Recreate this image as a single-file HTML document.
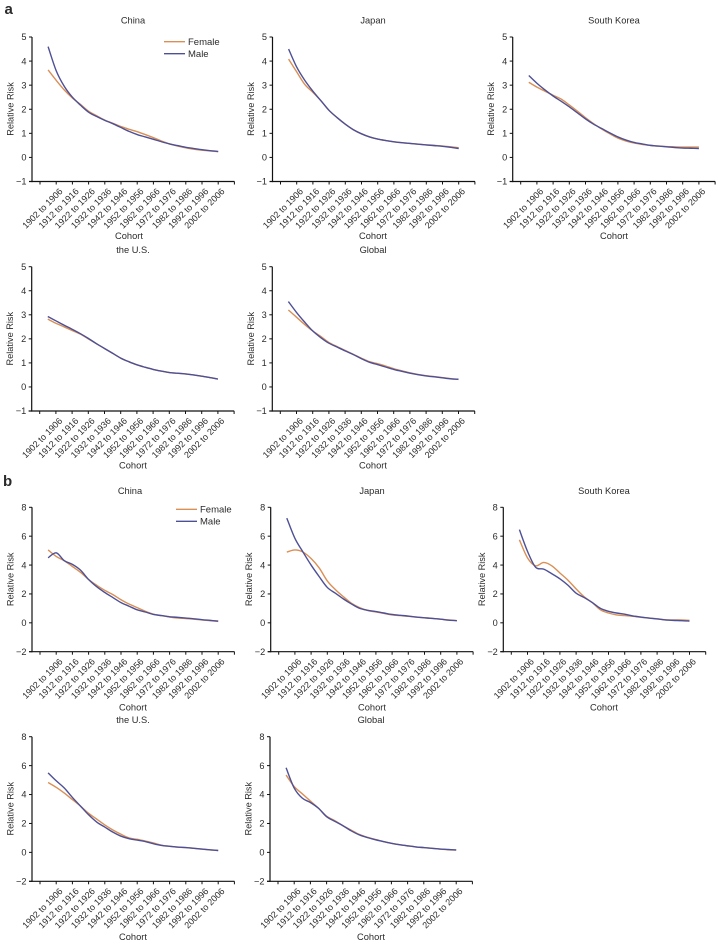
<!DOCTYPE html>
<html>
<head>
<meta charset="utf-8">
<style>
html,body{margin:0;padding:0;background:#fff;}
#chart{display:block;position:absolute;left:0;top:0;}
text{font-family:"Liberation Sans",Arial,sans-serif;fill:#2b2b2b;}
</style>
</head>
<body>
<svg id="chart" width="718" height="945" viewBox="0 0 718 945" xmlns="http://www.w3.org/2000/svg">
<text x="4.5" y="14" font-size="15" font-weight="bold">a</text>
<text x="3" y="486" font-size="15" font-weight="bold">b</text>
</svg>
<script>
const cohorts = ['1897 to 1901','1902 to 1906','1907 to 1911','1912 to 1916','1917 to 1921','1922 to 1926','1927 to 1931','1932 to 1936','1937 to 1941','1942 to 1946','1947 to 1951','1952 to 1956','1957 to 1961','1962 to 1966','1967 to 1971','1972 to 1976','1977 to 1981','1982 to 1986','1987 to 1991','1992 to 1996','1997 to 2001','2002 to 2006'];
const ticksA = [-1,0,1,2,3,4,5];
const ticksB = [-2,0,2,4,6,8];

const aChinaFemale = [3.63,3.2,2.8,2.47,2.2,1.92,1.73,1.55,1.42,1.28,1.17,1.07,.95,.82,.68,.56,.47,.40,.34,.30,.27,.24];
const aChinaMale = [4.6,3.6,2.95,2.5,2.17,1.88,1.7,1.54,1.4,1.24,1.08,.95,.85,.75,.65,.56,.49,.42,.37,.32,.28,.25];
const aJapanFemale = [4.08,3.55,3.03,2.7,2.35,1.95,1.65,1.38,1.15,.98,.85,.76,.70,.65,.61,.58,.55,.52,.50,.47,.44,.40];
const aJapanMale = [4.5,3.75,3.2,2.75,2.35,1.95,1.65,1.38,1.15,.98,.85,.76,.70,.65,.61,.58,.55,.52,.49,.46,.42,.37];
const aKoreaFemale = [3.12,2.92,2.75,2.58,2.42,2.18,1.92,1.65,1.40,1.18,.98,.80,.68,.60,.54,.50,.47,.45,.44,.43,.43,.43];
const aKoreaMale = [3.4,3.08,2.8,2.55,2.33,2.1,1.85,1.6,1.38,1.2,1.02,.85,.72,.62,.56,.5,.47,.44,.41,.39,.38,.37];
const aUsFemale = [2.82,2.65,2.5,2.35,2.2,2.0,1.8,1.6,1.4,1.2,1.05,.92,.82,.73,.66,.6,.57,.54,.5,.45,.39,.33];
const aUsMale = [2.93,2.75,2.57,2.4,2.22,2.02,1.8,1.6,1.4,1.2,1.05,.92,.82,.73,.66,.6,.57,.54,.5,.45,.39,.33];
const aGlobalFemale = [3.2,2.9,2.6,2.33,2.1,1.85,1.68,1.52,1.36,1.2,1.05,.97,.87,.76,.67,.59,.52,.47,.43,.39,.35,.31];
const aGlobalMale = [3.55,3.1,2.7,2.33,2.05,1.82,1.66,1.5,1.35,1.18,1.03,.93,.83,.73,.65,.57,.51,.46,.42,.38,.34,.32];

const bChinaFemale = [5.05,4.6,4.3,3.9,3.5,3.0,2.6,2.25,1.95,1.6,1.3,1.05,.8,.6,.5,.4,.33,.3,.25,.2,.15,.1];
const bChinaMale = [4.5,4.85,4.3,4.05,3.65,3.0,2.5,2.1,1.75,1.4,1.15,.9,.75,.58,.5,.42,.38,.33,.28,.22,.17,.12];
const bJapanFemale = [4.9,5.05,4.9,4.45,3.8,2.9,2.3,1.8,1.35,1.05,.85,.75,.65,.55,.5,.45,.4,.35,.3,.25,.2,.15];
const bJapanMale = [7.25,5.85,4.9,4.0,3.2,2.45,2.05,1.65,1.3,1.0,.87,.78,.68,.58,.52,.47,.4,.35,.3,.25,.18,.15];
const bKoreaFemale = [5.75,4.5,3.95,4.18,3.95,3.45,2.95,2.35,1.8,1.4,.9,.68,.55,.5,.45,.38,.33,.28,.22,.2,.2,.17];
const bKoreaMale = [6.45,4.95,3.85,3.72,3.4,3.05,2.6,2.05,1.75,1.4,1.0,.8,.68,.6,.48,.4,.33,.27,.2,.17,.15,.12];
const bUsFemale = [4.83,4.5,4.1,3.65,3.2,2.7,2.3,1.9,1.55,1.25,1.0,.9,.78,.65,.5,.42,.36,.33,.28,.22,.17,.13];
const bUsMale = [5.5,4.95,4.45,3.8,3.2,2.6,2.1,1.75,1.4,1.12,.95,.85,.75,.6,.48,.42,.37,.33,.28,.23,.18,.13];
const bGlobalFemale = [5.35,4.55,4.05,3.55,3.05,2.5,2.2,1.85,1.55,1.25,1.05,.9,.75,.63,.53,.45,.38,.33,.28,.23,.18,.16];
const bGlobalMale = [5.85,4.45,3.75,3.45,3.05,2.47,2.15,1.85,1.5,1.22,1.03,.88,.75,.63,.53,.45,.38,.33,.28,.23,.2,.17];

const FEMALE_COLOR = '#d98f55';
const MALE_COLOR = '#4d5096';
const svg = document.getElementById('chart');

function make(parent, tag, attrs, text) {
  const el = document.createElementNS('http://www.w3.org/2000/svg', tag);
  for (const k in attrs) el.setAttribute(k, attrs[k]);
  if (text !== undefined) el.textContent = text;
  parent.appendChild(el);
  return el;
}

function smoothPath(points) {
  let d = 'M' + points[0][0].toFixed(2) + ' ' + points[0][1].toFixed(2);
  for (let i = 0; i < points.length - 1; i++) {
    const p0 = points[Math.max(i - 1, 0)];
    const p1 = points[i];
    const p2 = points[i + 1];
    const p3 = points[Math.min(i + 2, points.length - 1)];
    const c1x = p1[0] + (p2[0] - p0[0]) / 6;
    const c1y = p1[1] + (p2[1] - p0[1]) / 6;
    const c2x = p2[0] - (p3[0] - p1[0]) / 6;
    const c2y = p2[1] - (p3[1] - p1[1]) / 6;
    d += 'C' + c1x.toFixed(2) + ' ' + c1y.toFixed(2) + ' ' + c2x.toFixed(2) + ' ' + c2y.toFixed(2) + ' ' + p2[0].toFixed(2) + ' ' + p2[1].toFixed(2);
  }
  return d;
}

function drawPanel(cfg) {
  const g = make(svg, 'g', {});
  
  

  const yMin = cfg.ticks[0];
  const yMax = cfg.ticks[cfg.ticks.length - 1];
  const yScale = v => cfg.bottom - (v - yMin) / (yMax - yMin) * (cfg.bottom - cfg.top);
  const step = 8.1;
  const tickBase = cfg.ax + 8;
  const xScale = i => tickBase + step * (i + 1);

  const title = make(g, 'text', {x: cfg.tx, y: cfg.top - 13.5, 'font-size': 9.3, 'text-anchor': 'middle'}, cfg.title);
  
  

  const yAxis = make(g, 'line', {x1: cfg.ax, x2: cfg.ax, y1: cfg.top, y2: cfg.bottom + 0.6, stroke: '#111', 'stroke-width': 1.2});
  
  

  const xAxis = make(g, 'line', {x1: cfg.ax - 3, x2: cfg.ax + 202.5, y1: cfg.bottom, y2: cfg.bottom, stroke: '#111', 'stroke-width': 1.2});
  
  

  cfg.ticks.forEach(t => {
    const y = yScale(t);
    const mark = make(g, 'line', {x1: cfg.ax - 3, x2: cfg.ax, y1: y, y2: y, stroke: '#111', 'stroke-width': 1});
    
    
    const label = make(g, 'text', {x: cfg.ax - 5.5, y: y + 3.2, 'font-size': 9.2, 'text-anchor': 'end'}, String(t).replace('-', '\u2212'));
    
    
  });

  for (let k = 0; k <= 24; k += 2) {
    const x = tickBase + step * k;
    const mark = make(g, 'line', {x1: x, x2: x, y1: cfg.bottom, y2: cfg.bottom + 3, stroke: '#111', 'stroke-width': 1});
    
    
  }

  cohorts.forEach((c, i) => {
    if (i % 2 === 0) return;
    const x = xScale(i) + 7;
    const y = cfg.bottom + 10.5;
    const label = make(g, 'text', {x: x, y: y, 'font-size': 9, 'text-anchor': 'end', transform: 'rotate(-45 ' + x + ' ' + y + ')'}, c);
    
    
  });

  const yTitleX = cfg.ax - 18.5;
  const yTitleY = cfg.top + 72;
  const yTitle = make(g, 'text', {x: yTitleX, y: yTitleY, 'font-size': 9.2, 'text-anchor': 'middle', transform: 'rotate(-90 ' + yTitleX + ' ' + yTitleY + ')'}, 'Relative Risk');
  
  

  const xTitle = make(g, 'text', {x: cfg.cx, y: cfg.cy, 'font-size': 9.3, 'text-anchor': 'middle'}, 'Cohort');
  
  

  const female = make(g, 'path', {d: smoothPath(cfg.female.map((v, i) => [xScale(i), yScale(v)])), fill: 'none', stroke: FEMALE_COLOR, 'stroke-width': 1.4});
  
  

  const male = make(g, 'path', {d: smoothPath(cfg.male.map((v, i) => [xScale(i), yScale(v)])), fill: 'none', stroke: MALE_COLOR, 'stroke-width': 1.4});
  
  
}

function drawLegend(id, x, y) {
  const g = make(svg, 'g', {});
  
  

  const fl = make(g, 'line', {x1: x, x2: x + 21, y1: y, y2: y, stroke: FEMALE_COLOR, 'stroke-width': 1.4});
  
  
  const ft = make(g, 'text', {x: x + 24, y: y + 3.3, 'font-size': 9.5}, 'Female');
  
  

  const ml = make(g, 'line', {x1: x, x2: x + 21, y1: y + 12, y2: y + 12, stroke: MALE_COLOR, 'stroke-width': 1.4});
  
  
  const mt = make(g, 'text', {x: x + 24, y: y + 15.3, 'font-size': 9.5}, 'Male');
  
  
}

drawPanel({id:'a-china', title:'China', ticks:ticksA, ax:32, top:37, bottom:181.5, tx:133, cx:129, cy:239, female:aChinaFemale, male:aChinaMale});
drawPanel({id:'a-japan', title:'Japan', ticks:ticksA, ax:272.5, top:37, bottom:181.5, tx:373, cx:373, cy:239, female:aJapanFemale, male:aJapanMale});
drawPanel({id:'a-south-korea', title:'South Korea', ticks:ticksA, ax:512.7, top:37, bottom:181.5, tx:614, cx:614, cy:239, female:aKoreaFemale, male:aKoreaMale});
drawPanel({id:'a-us', title:'the U.S.', ticks:ticksA, ax:31.7, top:266.7, bottom:411, tx:133, cx:133, cy:468.5, female:aUsFemale, male:aUsMale});
drawPanel({id:'a-global', title:'Global', ticks:ticksA, ax:272.3, top:266.7, bottom:411, tx:373, cx:373, cy:468.5, female:aGlobalFemale, male:aGlobalMale});
drawPanel({id:'b-china', title:'China', ticks:ticksB, ax:32, top:507.3, bottom:651.7, tx:130, cx:133, cy:710.5, female:bChinaFemale, male:bChinaMale});
drawPanel({id:'b-japan', title:'Japan', ticks:ticksB, ax:270.7, top:507.3, bottom:651.7, tx:372, cx:372, cy:710.5, female:bJapanFemale, male:bJapanMale});
drawPanel({id:'b-south-korea', title:'South Korea', ticks:ticksB, ax:503.3, top:507.3, bottom:651.7, tx:604, cx:604, cy:710.5, female:bKoreaFemale, male:bKoreaMale});
drawPanel({id:'b-us', title:'the U.S.', ticks:ticksB, ax:32, top:736.7, bottom:881.3, tx:133, cx:133, cy:940, female:bUsFemale, male:bUsMale});
drawPanel({id:'b-global', title:'Global', ticks:ticksB, ax:270, top:736.7, bottom:881.3, tx:371, cx:371, cy:940, female:bGlobalFemale, male:bGlobalMale});
drawLegend('legend-panel-a', 164, 41.7);
drawLegend('legend-panel-b', 176, 509.3);
</script>
</body>
</html>
